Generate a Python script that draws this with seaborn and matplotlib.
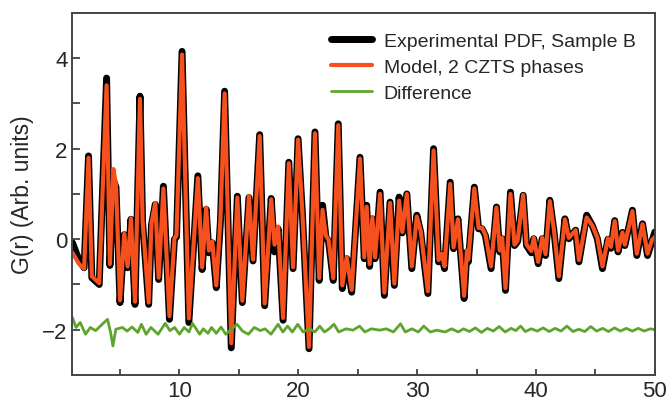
import numpy as np
import pandas as pd
import matplotlib
matplotlib.use('Agg')
import matplotlib.pyplot as plt
import seaborn as sns

# r grid (Angstrom) of the local extrema
r = [1.00, 1.56, 1.98, 2.35, 2.63, 3.25, 3.87, 4.15, 4.45, 4.66, 5.00, 5.36, 5.64, 5.92, 6.26,
     6.68, 6.90, 7.41, 7.65, 7.97, 8.25, 8.65, 9.16, 9.58, 9.75, 10.22, 10.79, 11.55, 11.91, 12.25,
     12.48, 12.76, 13.10, 13.45, 13.80, 14.36, 14.87, 15.29, 15.85, 16.19, 16.75, 17.17, 17.72, 18.00, 18.30,
     18.72, 19.20, 19.56, 19.98, 20.35, 20.90, 21.40, 21.76, 22.04, 22.32, 22.55, 22.94, 23.36, 23.70, 24.07,
     24.49, 25.19, 25.55, 25.75, 26.00, 26.23, 26.46, 26.88, 27.24, 27.72, 28.08, 28.48, 28.75, 29.13, 29.55,
     29.97, 30.30, 30.90, 31.38, 31.80, 32.05, 32.30, 32.78, 33.06, 33.43, 33.95, 34.19, 34.30, 34.81, 35.17,
     35.46, 35.74, 36.22, 36.67, 36.95, 37.15, 37.43, 37.85, 38.19, 38.45, 38.92, 39.20, 39.60, 39.81, 40.18,
     40.52, 40.80, 41.16, 41.50, 41.92, 42.43, 42.76, 43.33, 43.61, 44.26, 44.74, 45.16, 45.59, 46.05, 46.30,
     46.62, 46.90, 47.27, 47.47, 48.11, 48.48, 48.96, 49.38, 49.75, 50.00]

g_exp = [-0.08, -0.47, -0.63, 1.84, -0.85, -1.00, 3.56, -0.58, 1.30, 1.15, -1.40, 0.10, -0.63, 0.44, -1.44,
         3.16, 0.36, -1.44, 0.32, 0.77, -0.89, 1.17, -1.77, 0.00, 0.05, 4.15, -1.84, 1.40, -0.67, 0.66,
         -0.30, -0.08, -1.07, 0.40, 3.27, -2.40, 0.95, -1.40, 0.92, -0.48, 2.31, -1.47, 0.90, -0.28, 0.23,
         -1.79, 1.70, -0.65, 2.22, 0.53, -2.42, 2.37, -0.91, 0.75, 0.05, -0.05, -0.91, 2.55, -1.09, -0.43,
         -1.17, 1.81, -0.43, 0.75, -0.60, 0.45, -0.43, 1.04, -1.24, 0.82, -1.02, 0.93, 0.14, 1.00, -0.65,
         0.53, 0.15, -1.20, 2.00, -0.50, -0.35, -0.65, 1.26, -0.21, 0.45, -1.31, -0.28, -0.50, 1.15, 0.23,
         0.23, 0.08, -0.65, 0.71, -0.28, 0.01, -1.13, 1.04, -0.14, -0.05, 0.97, -0.14, -0.30, 0.01, -0.54,
         0.01, -0.36, 0.86, 0.20, -0.87, 0.45, 0.01, 0.20, -0.50, 0.53, 0.30, 0.01, -0.65, 0.00, -0.20,
         0.41, -0.28, 0.15, -0.14, 0.64, -0.36, 0.34, -0.36, -0.05, 0.16]

g_model = [-0.30, -0.55, -0.65, 1.80, -0.82, -0.97, 3.40, -0.55, 1.55, 1.20, -1.35, 0.12, -0.60, 0.46, -1.38,
           3.10, 0.40, -1.40, 0.36, 0.80, -0.85, 1.12, -1.70, 0.02, 0.08, 4.08, -1.75, 1.35, -0.62, 0.70,
           -0.25, -0.05, -1.02, 0.45, 3.22, -2.30, 0.92, -1.36, 0.95, -0.45, 2.28, -1.42, 0.88, -0.12, 0.28,
           -1.74, 1.68, -0.62, 2.20, 0.56, -2.38, 2.34, -0.86, 0.65, 0.08, -0.02, -0.86, 2.52, -1.02, -0.40,
           -1.12, 1.78, -0.40, 0.72, -0.55, 0.48, -0.40, 1.00, -1.18, 0.80, -0.98, 0.85, 0.16, 1.00, -0.60,
           0.50, 0.18, -1.15, 1.96, -0.46, -0.32, -0.60, 1.22, -0.18, 0.44, -1.25, -0.25, -0.45, 1.12, 0.25,
           0.25, 0.10, -0.60, 0.70, -0.25, 0.03, -1.08, 1.00, -0.12, -0.03, 0.98, -0.12, -0.26, 0.03, -0.50,
           0.03, -0.33, 0.84, 0.22, -0.82, 0.44, 0.03, 0.20, -0.46, 0.48, 0.30, 0.03, -0.60, 0.02, -0.17,
           0.40, -0.25, 0.15, -0.12, 0.62, -0.32, 0.33, -0.32, -0.02, 0.05]

r_diff = [1.0, 1.3, 1.65, 2.1, 2.5, 2.95, 3.5, 3.95, 4.2, 4.4, 4.65, 5.2, 5.6, 6.0, 6.5, 6.8, 7.2, 7.6,
          8.2, 8.8, 9.2, 9.6, 10.0, 10.4, 10.8, 11.1, 11.7, 12.0, 12.4, 12.7, 13.1, 13.5, 13.9, 14.4,
          14.85, 15.3, 15.8, 16.3, 16.8, 17.2, 17.7, 18.3, 18.7, 19.1, 19.5, 19.95, 20.4, 20.95, 21.4,
          21.8, 22.2, 22.6, 23.0, 23.4, 24.0, 24.6, 25.15, 25.6, 26.15, 26.85, 27.4, 28.0, 28.6, 29.0,
          29.55, 30.1, 30.55, 31.1, 31.65, 32.35, 32.9, 33.45, 33.9, 34.4, 34.9, 35.4, 35.9, 36.4, 36.9,
          37.4, 37.9, 38.3, 38.7, 39.1, 39.6, 40.1, 40.6, 41.1, 41.6, 42.1, 42.6, 43.1, 43.6, 44.1, 44.6,
          45.1, 45.6, 46.1, 46.6, 47.1, 47.6, 48.1, 48.6, 49.1, 49.6, 50.0]

g_diff = [-1.73, -1.95, -1.84, -2.10, -1.95, -2.02, -1.88, -1.77, -2.05, -2.36, -1.99, -1.95, -2.03, -1.94,
          -2.06, -1.88, -2.10, -1.95, -2.10, -1.86, -2.02, -1.95, -2.10, -1.95, -2.05, -1.86, -2.10, -1.98,
          -2.08, -1.95, -2.08, -1.94, -2.10, -1.98, -1.88, -2.03, -2.10, -1.95, -2.02, -1.98, -2.10, -1.88,
          -2.05, -1.92, -2.05, -1.88, -2.05, -1.98, -2.05, -1.92, -2.05, -1.98, -1.88, -2.05, -1.98, -2.01,
          -1.92, -2.05, -1.98, -2.01, -1.98, -2.05, -1.87, -2.05, -1.98, -2.05, -1.92, -2.05, -2.01, -2.05,
          -1.98, -2.05, -1.98, -2.04, -1.96, -2.06, -1.97, -2.03, -1.93, -2.05, -1.97, -2.02, -1.92, -2.04,
          -1.98, -2.03, -1.96, -2.04, -1.97, -2.03, -1.92, -2.04, -1.99, -2.04, -1.93, -2.03, -1.97, -2.04,
          -1.96, -2.03, -1.97, -2.03, -1.97, -2.03, -1.98, -2.00]

sns.set_style('ticks')
plt.rcParams['font.family'] = ['Liberation Sans', 'DejaVu Sans']

fig = plt.figure(figsize=(6.71, 4.10), dpi=100)
ax = fig.add_axes([0.108, 0.083, 0.868, 0.883])

join = dict(solid_joinstyle='round', solid_capstyle='round')
sns.lineplot(x=r, y=g_exp, ax=ax, color='black', lw=5.0, sort=False, estimator=None,
             label='Experimental PDF, Sample B', **join)
sns.lineplot(x=r, y=g_model, ax=ax, color='#f5501e', lw=3.0, sort=False, estimator=None,
             label='Model, 2 CZTS phases', **join)
sns.lineplot(x=r_diff, y=g_diff, ax=ax, color='#5ea52e', lw=2.0, sort=False, estimator=None,
             label='Difference', **join)

ax.set_xlim(1, 50)
ax.set_ylim(-3, 5)
ax.set_xticks([10, 20, 30, 40, 50])
ax.set_xticks([5, 15, 25, 35, 45], minor=True)
ax.set_yticks([-2, 0, 2, 4])
ax.set_yticks([-1, 1, 3], minor=True)
ax.set_ylabel('G(r) (Arb. units)', fontsize=16.5, labelpad=6)
ax.set_xlabel('')
ax.tick_params(axis='both', which='both', direction='in', labelsize=16, color='#333333', width=1.2)
ax.tick_params(axis='y', which='both', length=6)
ax.tick_params(axis='x', which='both', length=4.5)
for s in ax.spines.values():
    s.set_color('#444444')
    s.set_linewidth(1.4)

leg = ax.legend(loc='upper right', frameon=False, fontsize=14, handlelength=2.1,
                labelspacing=0.42, borderaxespad=0.6, handletextpad=0.6)

plt.savefig('out.png', dpi=100)
plt.close()
